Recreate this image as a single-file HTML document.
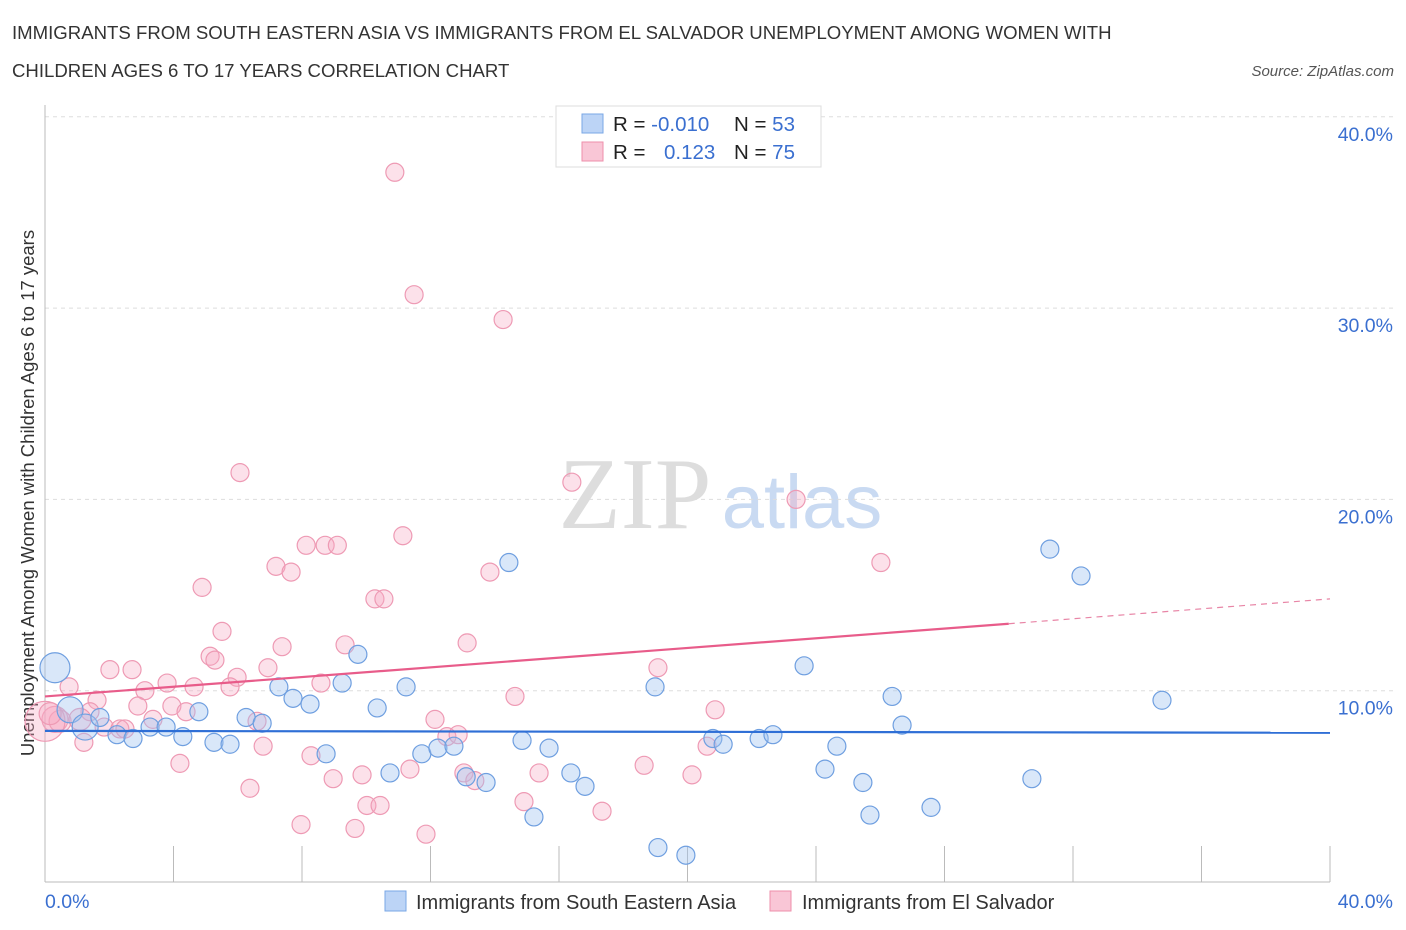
<!DOCTYPE html>
<html><head><meta charset="utf-8"><style>
body{margin:0;background:#fff;font-family:"Liberation Sans",sans-serif;}
#wrap{position:relative;width:1406px;height:930px;overflow:hidden;}
</style></head><body>
<div id="wrap">
<svg id="svg" width="1406" height="930" xmlns="http://www.w3.org/2000/svg">
<text x="12" y="39" font-size="18.6" fill="#333">IMMIGRANTS FROM SOUTH EASTERN ASIA VS IMMIGRANTS FROM EL SALVADOR UNEMPLOYMENT AMONG WOMEN WITH</text>
<text x="12" y="77" font-size="18.6" fill="#333">CHILDREN AGES 6 TO 17 YEARS CORRELATION CHART</text>
<text x="1394" y="76" font-size="15" fill="#555" font-style="italic" text-anchor="end">Source: ZipAtlas.com</text>
<text x="34" y="493" font-size="18.5" fill="#333" text-anchor="middle" transform="rotate(-90 34 493)">Unemployment Among Women with Children Ages 6 to 17 years</text>
<text x="635" y="528" font-size="102" fill="#ddd" font-family="Liberation Serif,serif" text-anchor="middle">ZIP</text>
<text x="802" y="528" font-size="76" fill="#c9daf2" text-anchor="middle">atlas</text>
<g id="grid"></g><g id="marks"></g>
<rect x="556" y="106" width="265" height="61" fill="#fff" stroke="#ddd"/>
<rect x="582" y="114" width="21" height="19" fill="#bcd4f6" stroke="#7aa7e6"/>
<rect x="582" y="142" width="21" height="19" fill="#f9c6d6" stroke="#ee8fab"/>
<text x="613" y="131" font-size="20.5" fill="#222">R = <tspan fill="#3a6fd0">-0.010</tspan></text>
<text x="734" y="131" font-size="20.5" fill="#222">N = <tspan fill="#3a6fd0">53</tspan></text>
<text x="613" y="159" font-size="20.5" fill="#222">R = <tspan fill="#3a6fd0" x="664">0.123</tspan></text>
<text x="734" y="159" font-size="20.5" fill="#222">N = <tspan fill="#3a6fd0">75</tspan></text>
<rect x="385" y="891" width="21" height="20" fill="#bcd4f6" stroke="#7aa7e6"/>
<text x="416" y="909" font-size="20" fill="#333">Immigrants from South Eastern Asia</text>
<rect x="770" y="891" width="21" height="20" fill="#f9c6d6" stroke="#ee8fab"/>
<text x="802" y="909" font-size="20" fill="#333">Immigrants from El Salvador</text>
</svg></div>
<script>
const yTicks=[10,20,30,40];
const yTickLabels=["10.0%","20.0%","30.0%","40.0%"];
const xTickLabels=["0.0%","40.0%"];
const blueX=[0.31,0.78,1.25,1.71,2.24,2.74,3.27,3.77,4.29,4.79,5.26,5.76,6.26,6.76,7.28,7.72,8.25,8.75,9.25,9.74,10.34,10.74,11.24,11.73,12.23,12.73,13.11,13.73,14.44,14.85,15.22,15.69,16.37,16.81,18.99,19.08,19.95,20.79,21.11,22.23,22.66,23.63,24.28,24.65,25.46,25.68,26.37,26.68,27.58,30.72,31.28,32.25,34.77];
const blueY=[11.2,9.0,8.1,8.6,7.7,7.5,8.1,8.1,7.6,8.9,7.3,7.2,8.6,8.3,10.2,9.6,9.3,6.7,10.4,11.9,9.1,5.7,10.2,6.7,7.0,7.1,5.5,5.2,16.7,7.4,3.4,7.0,5.7,5.0,10.2,1.8,1.4,7.5,7.2,7.5,7.7,11.3,5.9,7.1,5.2,3.5,9.7,8.2,3.9,5.4,17.4,16.0,9.5];
const blueSize=[15,13,13,9,9,9,9,9,9,9,9,9,9,9,9,9,9,9,9,9,9,9,9,9,9,9,9,9,9,9,9,9,9,9,9,9,9,9,9,9,9,9,9,9,9,9,9,9,9,9,9,9,9];
const pinkX=[10.89,11.49,14.26,6.07,16.4,23.38,11.14,8.13,8.72,9.1,7.19,7.66,26.02,13.85,4.89,10.27,10.55,5.51,13.14,7.38,9.34,5.14,5.29,6.94,2.02,2.71,19.08,5.98,8.59,3.8,4.64,5.76,0.75,3.11,14.63,1.62,2.89,3.95,4.39,20.86,1.4,0.31,0.47,3.36,6.6,12.14,1.84,2.33,2.49,12.51,12.86,1.21,6.79,20.61,4.2,8.28,8.97,9.87,11.36,13.04,13.38,15.38,18.65,20.14,6.38,14.91,10.02,10.43,17.34,7.97,9.65,11.86,0,0.16,1.09];
const pinkY=[37.1,30.7,29.4,21.4,20.9,20.0,18.1,17.6,17.6,17.6,16.5,16.2,16.7,16.2,15.4,14.8,14.8,13.1,12.5,12.3,12.4,11.8,11.6,11.2,11.1,11.1,11.2,10.7,10.4,10.4,10.2,10.2,10.2,10.0,9.7,9.5,9.2,9.2,8.9,9.0,8.9,8.5,8.4,8.5,8.4,8.5,8.1,8.0,8.0,7.6,7.7,7.3,7.1,7.1,6.2,6.6,5.4,5.6,5.9,5.7,5.3,5.7,6.1,5.6,4.9,4.2,4.0,4.0,3.7,3.0,2.8,2.5,8.4,8.8,8.5];
const pinkSize=[9,9,9,9,9,9,9,9,9,9,9,9,9,9,9,9,9,9,9,9,9,9,9,9,9,9,9,9,9,9,9,9,9,9,9,9,9,9,9,9,9,13,11,9,9,9,9,9,9,9,9,9,9,9,9,9,9,9,9,9,9,9,9,9,9,9,9,9,9,9,9,9,20,11,11];
const blueTrend=[[0,7.9],[40,7.8]];
const pinkTrend=[[0,9.7],[30,13.5],[40,14.8]];
const NS="http://www.w3.org/2000/svg";
const X=v=>45+v*32.125, Y=v=>882-v*19.13;
const grid=document.getElementById('grid'), marks=document.getElementById('marks');
function mk(p,tag,a){const e=document.createElementNS(NS,tag);for(const k in a)e.setAttribute(k,a[k]);p.appendChild(e);return e;}
yTicks.forEach((t,i)=>{
 const l=mk(grid,'line',{x1:45,x2:1395,y1:Y(t),y2:Y(t),stroke:'#ddd','stroke-dasharray':'4 4'});
 
 
 const tx=mk(grid,'text',{x:1393,y:Y(t)+24,'font-size':19.5,fill:'#3a6fd0','text-anchor':'end'});tx.textContent=yTickLabels[i];
 
 
});
const ax=mk(grid,'line',{x1:45,x2:45,y1:105,y2:882,stroke:'#bbb'});


const bx=mk(grid,'line',{x1:45,x2:1330,y1:882,y2:882,stroke:'#bbb'});


for(let i=0;i<=10;i++){const t=mk(grid,'line',{x1:X(i*4),x2:X(i*4),y1:846,y2:882,stroke:'#bbb'});
 
 }
[[0,'start',45],[40,'end',1393]].forEach((d,i)=>{const t=mk(grid,'text',{x:d[2],y:908,'font-size':19.5,fill:'#3a6fd0','text-anchor':d[1]});t.textContent=xTickLabels[i];
 
 });
pinkX.forEach((v,i)=>{const c=mk(marks,'circle',{cx:X(v),cy:Y(pinkY[i]),r:pinkSize[i],fill:'rgba(246,170,196,0.35)',stroke:'#ee9ab4','stroke-width':1.2});
 
 });
blueX.forEach((v,i)=>{const c=mk(marks,'circle',{cx:X(v),cy:Y(blueY[i]),r:blueSize[i],fill:'rgba(160,196,240,0.4)',stroke:'#6f9fe0','stroke-width':1.2});
 
 });
const bl=mk(marks,'line',{x1:X(blueTrend[0][0]),y1:Y(blueTrend[0][1]),x2:X(blueTrend[1][0]),y2:Y(blueTrend[1][1]),stroke:'#2f6fd6','stroke-width':2.2});


const pl=mk(marks,'line',{x1:X(pinkTrend[0][0]),y1:Y(pinkTrend[0][1]),x2:X(pinkTrend[1][0]),y2:Y(pinkTrend[1][1]),stroke:'#e85c8a','stroke-width':2.2});


const pd=mk(marks,'line',{x1:X(pinkTrend[1][0]),y1:Y(pinkTrend[1][1]),x2:X(pinkTrend[2][0]),y2:Y(pinkTrend[2][1]),stroke:'#e885a6','stroke-width':1.2,'stroke-dasharray':'6 5'});


</script></body></html>
